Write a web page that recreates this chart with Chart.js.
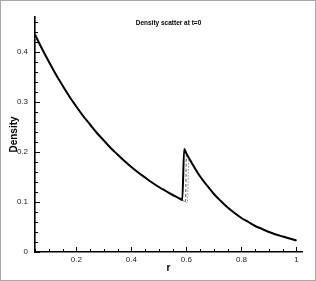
<!DOCTYPE html>
<html>
<head>
<meta charset="utf-8">
<script src="https://cdn.jsdelivr.net/npm/chart.js@4.4.1/dist/chart.umd.min.js"></script>
<style>
  html, body { margin: 0; padding: 0; background: #fff; }
  #frame { width: 316px; height: 281px; box-sizing: border-box; border: 1px solid #a8a8a8; }
  canvas { display: block; }
</style>
</head>
<body>
<div id="frame"><canvas id="densChart" width="314" height="279"></canvas></div>
<script>
/* ---- dados ---- */
const chartTitle = 'Density scatter at t=0';

// ramo antes do choque (comum às três curvas)
const rLeft = [0.050, 0.075, 0.100, 0.125, 0.150, 0.175, 0.200, 0.225, 0.250, 0.275, 0.300, 0.325, 0.350, 0.375, 0.400, 0.425, 0.450, 0.475, 0.500, 0.525, 0.550, 0.575];
const dLeft = [0.435, 0.407, 0.381, 0.356, 0.333, 0.311, 0.291, 0.272, 0.255, 0.238, 0.223, 0.208, 0.195, 0.182, 0.170, 0.159, 0.149, 0.139, 0.130, 0.122, 0.114, 0.107];

// ramo depois do choque (comum às três curvas)
const rRight = [0.600, 0.610, 0.625, 0.650, 0.675, 0.700, 0.725, 0.750, 0.775, 0.800, 0.825, 0.850, 0.875, 0.900, 0.925, 0.950, 0.975, 1.000];
const dRight = [0.197, 0.187, 0.173, 0.151, 0.133, 0.116, 0.102, 0.089, 0.078, 0.068, 0.060, 0.052, 0.046, 0.040, 0.035, 0.031, 0.027, 0.023];

// região do choque de cada curva
const rShockSolid = [0.585, 0.592];
const dShockSolid = [0.104, 0.206];
const rShockDash = [0.585, 0.597, 0.600];
const dShockDash = [0.104, 0.100, 0.194];
const rShockDot = [0.585, 0.597, 0.603, 0.609];
const dShockDot = [0.104, 0.100, 0.098, 0.184];

// eixos
const xTicks = [0.2, 0.4, 0.6, 0.8, 1.0];
const xTickLabels = ['0.2', '0.4', '0.6', '0.8', '1'];
const yTicks = [0, 0.1, 0.2, 0.3, 0.4];
const yTickLabels = ['0', '0.1', '0.2', '0.3', '0.4'];

const FONT = '"Liberation Sans", Arial, Helvetica, sans-serif';

/**
 * Monta a curva: ramo esquerdo + choque + ramo direito
 */
function buildCurve(rShock, dShock) {
  const first = rShock[0];
  const last = rShock[rShock.length - 1];
  const pts = [];
  rLeft.forEach((r, i) => { if (r < first) pts.push({ x: r, y: dLeft[i] }); });
  rShock.forEach((r, i) => pts.push({ x: r, y: dShock[i] }));
  rRight.forEach((r, i) => { if (r > last) pts.push({ x: r, y: dRight[i] }); });
  return pts;
}

/**
 * Desenha os ticks para dentro (maiores e menores) e o título dentro do gráfico
 */
const innerTicks = {
  id: 'innerTicks',
  afterDraw(chart) {
    const ctx = chart.ctx;
    const xs = chart.scales.x;
    const ys = chart.scales.y;
    const area = chart.chartArea;
    ctx.save();
    ctx.strokeStyle = '#000';
    ctx.lineWidth = 1;
    ctx.beginPath();
    // x: menores a cada 0.05
    for (let v = 0.05; v <= xs.max + 1e-9; v += 0.05) {
      const px = Math.round(xs.getPixelForValue(v)) + 0.5;
      const major = xTicks.some(t => Math.abs(t - v) < 1e-6);
      ctx.moveTo(px, area.bottom);
      ctx.lineTo(px, area.bottom - (major ? 5 : 3));
    }
    // y: menores a cada 0.02
    for (let v = 0; v <= ys.max + 1e-9; v += 0.02) {
      const py = Math.round(ys.getPixelForValue(v)) + 0.5;
      const major = yTicks.some(t => Math.abs(t - v) < 1e-6);
      ctx.moveTo(area.left, py);
      ctx.lineTo(area.left + (major ? 5 : 3), py);
    }
    ctx.stroke();

    // título
    ctx.fillStyle = '#000';
    ctx.font = 'bold 6.5px ' + FONT;
    ctx.textAlign = 'center';
    ctx.textBaseline = 'middle';
    ctx.fillText(chartTitle, (area.left + area.right) / 2, area.top + 6);
    ctx.restore();
  }
};

new Chart(document.getElementById('densChart'), {
  type: 'line',
  data: {
    datasets: [
      {
        label: 'solid',
        data: buildCurve(rShockSolid, dShockSolid),
        borderColor: '#000',
        borderWidth: 2,
        pointRadius: 0,
        cubicInterpolationMode: 'monotone'
      },
      {
        label: 'dash',
        data: buildCurve(rShockDash, dShockDash),
        borderColor: '#555',
        borderWidth: 1,
        borderDash: [3, 2],
        pointRadius: 0,
        cubicInterpolationMode: 'monotone'
      },
      {
        label: 'dot',
        data: buildCurve(rShockDot, dShockDot),
        borderColor: '#888',
        borderWidth: 1,
        borderDash: [1.5, 1.5],
        pointRadius: 0,
        cubicInterpolationMode: 'monotone'
      }
    ]
  },
  options: {
    responsive: false,
    animation: false,
    layout: { padding: { top: 16, right: 13, left: 0, bottom: 0 } },
    plugins: {
      legend: { display: false },
      tooltip: { enabled: false }
    },
    scales: {
      x: {
        type: 'linear',
        min: 0.05,
        max: 1.02,
        afterBuildTicks: s => { s.ticks = xTicks.map(v => ({ value: v })); },
        afterFit: s => { s.height = 28; },
        grid: { display: false, drawTicks: false },
        border: { display: true, color: '#000', width: 1.6 },
        ticks: {
          padding: 3,
          color: '#222',
          font: { family: FONT, size: 8 },
          maxRotation: 0,
          callback: function(v) {
            const i = xTicks.findIndex(t => Math.abs(t - v) < 1e-6);
            return i >= 0 ? xTickLabels[i] : '';
          }
        },
        title: {
          display: true,
          text: 'r',
          color: '#000',
          font: { family: FONT, size: 10, weight: 'bold' },
          padding: { top: 0, bottom: 6 }
        }
      },
      y: {
        type: 'linear',
        min: 0,
        max: 0.47,
        afterBuildTicks: s => { s.ticks = yTicks.map(v => ({ value: v })); },
        afterFit: s => { s.width = 34; },
        grid: { display: false, drawTicks: false },
        border: { display: true, color: '#000', width: 1.6 },
        ticks: {
          padding: 7,
          color: '#222',
          font: { family: FONT, size: 8 },
          callback: function(v) {
            const i = yTicks.findIndex(t => Math.abs(t - v) < 1e-6);
            return i >= 0 ? yTickLabels[i] : '';
          }
        },
        title: {
          display: true,
          text: 'Density',
          color: '#000',
          font: { family: FONT, size: 10, weight: 'bold' },
          padding: { top: 7, bottom: 0 }
        }
      }
    }
  },
  plugins: [innerTicks]
});
</script>
</body>
</html>
